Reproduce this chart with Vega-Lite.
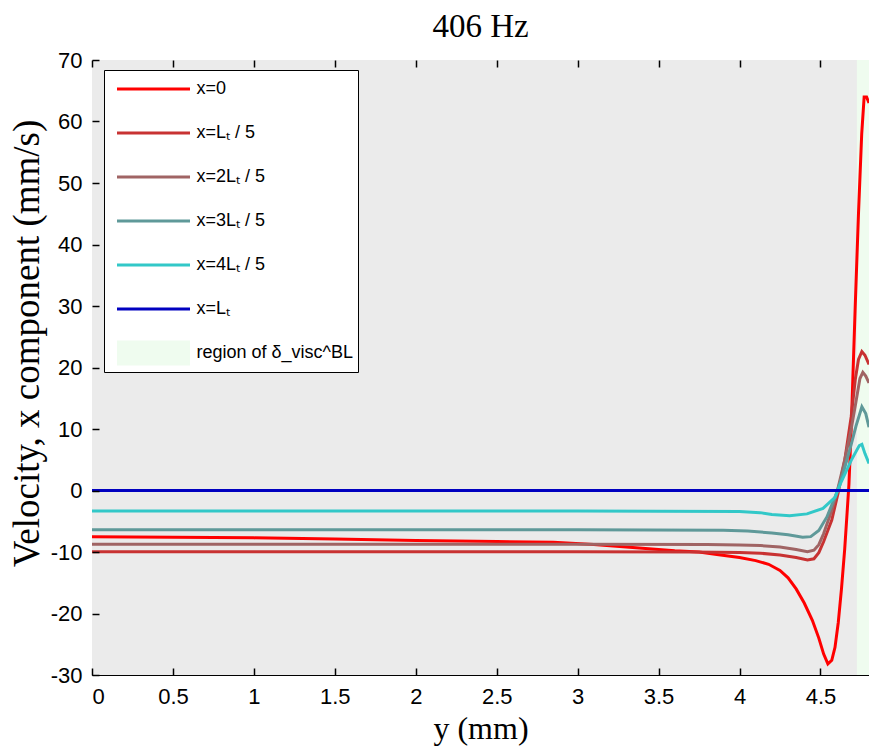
{
  "$schema": "https://vega.github.io/schema/vega-lite/v6.json",
  "autosize": {"type": "none"},
  "padding": {"left": 92, "top": 60, "right": 0, "bottom": 74},
  "width": 777,
  "height": 615,
  "background": "white",
  "title": {"text": "406 Hz", "font": "Liberation Serif", "fontSize": 33, "fontWeight": "normal", "color": "black", "offset": 5, "anchor": "middle"},
  "datasets": {
    "region": [
      {"s": "region of δ_visc^BL", "pos": 4.725, "pos2": 4.8}
    ],
    "lines": [
      {"s": "x=0", "pos": 0, "vel": -7.5},
      {"s": "x=0", "pos": 0.5, "vel": -7.6},
      {"s": "x=0", "pos": 1.0, "vel": -7.7},
      {"s": "x=0", "pos": 1.5, "vel": -7.9},
      {"s": "x=0", "pos": 2.0, "vel": -8.15},
      {"s": "x=0", "pos": 2.5, "vel": -8.3},
      {"s": "x=0", "pos": 2.85, "vel": -8.4},
      {"s": "x=0", "pos": 3.1, "vel": -8.8},
      {"s": "x=0", "pos": 3.4, "vel": -9.4},
      {"s": "x=0", "pos": 3.6, "vel": -9.8},
      {"s": "x=0", "pos": 3.75, "vel": -10.0},
      {"s": "x=0", "pos": 3.86, "vel": -10.4},
      {"s": "x=0", "pos": 4.0, "vel": -10.9},
      {"s": "x=0", "pos": 4.1, "vel": -11.4},
      {"s": "x=0", "pos": 4.18, "vel": -12.0},
      {"s": "x=0", "pos": 4.25, "vel": -13.0},
      {"s": "x=0", "pos": 4.3, "vel": -14.2},
      {"s": "x=0", "pos": 4.35, "vel": -16.0},
      {"s": "x=0", "pos": 4.4, "vel": -18.3},
      {"s": "x=0", "pos": 4.45, "vel": -21.1},
      {"s": "x=0", "pos": 4.49, "vel": -24.0},
      {"s": "x=0", "pos": 4.52, "vel": -26.6},
      {"s": "x=0", "pos": 4.546, "vel": -28.2},
      {"s": "x=0", "pos": 4.57, "vel": -27.6},
      {"s": "x=0", "pos": 4.59, "vel": -25.5},
      {"s": "x=0", "pos": 4.61, "vel": -21.5},
      {"s": "x=0", "pos": 4.63, "vel": -16.0},
      {"s": "x=0", "pos": 4.65, "vel": -9.5},
      {"s": "x=0", "pos": 4.665, "vel": -3.5},
      {"s": "x=0", "pos": 4.676, "vel": 1},
      {"s": "x=0", "pos": 4.69, "vel": 10},
      {"s": "x=0", "pos": 4.70, "vel": 18},
      {"s": "x=0", "pos": 4.715, "vel": 30},
      {"s": "x=0", "pos": 4.735, "vel": 45},
      {"s": "x=0", "pos": 4.755, "vel": 58},
      {"s": "x=0", "pos": 4.77, "vel": 64},
      {"s": "x=0", "pos": 4.785, "vel": 64},
      {"s": "x=0", "pos": 4.8, "vel": 63},

      {"s": "x=Lₜ / 5", "pos": 0, "vel": -9.95},
      {"s": "x=Lₜ / 5", "pos": 1, "vel": -9.95},
      {"s": "x=Lₜ / 5", "pos": 2, "vel": -9.95},
      {"s": "x=Lₜ / 5", "pos": 3, "vel": -9.95},
      {"s": "x=Lₜ / 5", "pos": 3.7, "vel": -10.0},
      {"s": "x=Lₜ / 5", "pos": 4.0, "vel": -10.1},
      {"s": "x=Lₜ / 5", "pos": 4.13, "vel": -10.2},
      {"s": "x=Lₜ / 5", "pos": 4.25, "vel": -10.5},
      {"s": "x=Lₜ / 5", "pos": 4.35, "vel": -10.9},
      {"s": "x=Lₜ / 5", "pos": 4.42, "vel": -11.3},
      {"s": "x=Lₜ / 5", "pos": 4.46, "vel": -11.1},
      {"s": "x=Lₜ / 5", "pos": 4.49, "vel": -10.1},
      {"s": "x=Lₜ / 5", "pos": 4.52, "vel": -8.3},
      {"s": "x=Lₜ / 5", "pos": 4.57, "vel": -4.8},
      {"s": "x=Lₜ / 5", "pos": 4.61, "vel": -0.3},
      {"s": "x=Lₜ / 5", "pos": 4.65, "vel": 4.9},
      {"s": "x=Lₜ / 5", "pos": 4.69, "vel": 12},
      {"s": "x=Lₜ / 5", "pos": 4.715, "vel": 18},
      {"s": "x=Lₜ / 5", "pos": 4.735, "vel": 21.3},
      {"s": "x=Lₜ / 5", "pos": 4.756, "vel": 22.6},
      {"s": "x=Lₜ / 5", "pos": 4.775, "vel": 22},
      {"s": "x=Lₜ / 5", "pos": 4.8, "vel": 20.5},

      {"s": "x=2Lₜ / 5", "pos": 0, "vel": -8.75},
      {"s": "x=2Lₜ / 5", "pos": 1, "vel": -8.75},
      {"s": "x=2Lₜ / 5", "pos": 2, "vel": -8.75},
      {"s": "x=2Lₜ / 5", "pos": 3, "vel": -8.75},
      {"s": "x=2Lₜ / 5", "pos": 3.8, "vel": -8.8},
      {"s": "x=2Lₜ / 5", "pos": 4.0, "vel": -8.85},
      {"s": "x=2Lₜ / 5", "pos": 4.13, "vel": -8.95},
      {"s": "x=2Lₜ / 5", "pos": 4.25, "vel": -9.2},
      {"s": "x=2Lₜ / 5", "pos": 4.35, "vel": -9.6},
      {"s": "x=2Lₜ / 5", "pos": 4.42, "vel": -9.95},
      {"s": "x=2Lₜ / 5", "pos": 4.46, "vel": -9.7},
      {"s": "x=2Lₜ / 5", "pos": 4.49, "vel": -8.8},
      {"s": "x=2Lₜ / 5", "pos": 4.52, "vel": -7.0},
      {"s": "x=2Lₜ / 5", "pos": 4.57, "vel": -3.2},
      {"s": "x=2Lₜ / 5", "pos": 4.605, "vel": 0},
      {"s": "x=2Lₜ / 5", "pos": 4.65, "vel": 5},
      {"s": "x=2Lₜ / 5", "pos": 4.69, "vel": 10},
      {"s": "x=2Lₜ / 5", "pos": 4.72, "vel": 14.5},
      {"s": "x=2Lₜ / 5", "pos": 4.744, "vel": 18.2},
      {"s": "x=2Lₜ / 5", "pos": 4.762, "vel": 19.2},
      {"s": "x=2Lₜ / 5", "pos": 4.78, "vel": 18.6},
      {"s": "x=2Lₜ / 5", "pos": 4.8, "vel": 17.5},

      {"s": "x=3Lₜ / 5", "pos": 0, "vel": -6.4},
      {"s": "x=3Lₜ / 5", "pos": 1, "vel": -6.4},
      {"s": "x=3Lₜ / 5", "pos": 2, "vel": -6.4},
      {"s": "x=3Lₜ / 5", "pos": 3, "vel": -6.4},
      {"s": "x=3Lₜ / 5", "pos": 3.9, "vel": -6.45},
      {"s": "x=3Lₜ / 5", "pos": 4.05, "vel": -6.6},
      {"s": "x=3Lₜ / 5", "pos": 4.2, "vel": -6.9},
      {"s": "x=3Lₜ / 5", "pos": 4.3, "vel": -7.2},
      {"s": "x=3Lₜ / 5", "pos": 4.39, "vel": -7.6},
      {"s": "x=3Lₜ / 5", "pos": 4.44, "vel": -7.5},
      {"s": "x=3Lₜ / 5", "pos": 4.49, "vel": -6.5},
      {"s": "x=3Lₜ / 5", "pos": 4.54, "vel": -4.3},
      {"s": "x=3Lₜ / 5", "pos": 4.6, "vel": -0.4},
      {"s": "x=3Lₜ / 5", "pos": 4.64, "vel": 2.8},
      {"s": "x=3Lₜ / 5", "pos": 4.68, "vel": 6.5},
      {"s": "x=3Lₜ / 5", "pos": 4.72, "vel": 10.5},
      {"s": "x=3Lₜ / 5", "pos": 4.756, "vel": 13.6},
      {"s": "x=3Lₜ / 5", "pos": 4.78, "vel": 12.5},
      {"s": "x=3Lₜ / 5", "pos": 4.8, "vel": 10.3},

      {"s": "x=4Lₜ / 5", "pos": 0, "vel": -3.35},
      {"s": "x=4Lₜ / 5", "pos": 1, "vel": -3.35},
      {"s": "x=4Lₜ / 5", "pos": 2, "vel": -3.35},
      {"s": "x=4Lₜ / 5", "pos": 3, "vel": -3.35},
      {"s": "x=4Lₜ / 5", "pos": 4.0, "vel": -3.4},
      {"s": "x=4Lₜ / 5", "pos": 4.126, "vel": -3.6},
      {"s": "x=4Lₜ / 5", "pos": 4.2, "vel": -3.9},
      {"s": "x=4Lₜ / 5", "pos": 4.31, "vel": -4.1},
      {"s": "x=4Lₜ / 5", "pos": 4.417, "vel": -3.8},
      {"s": "x=4Lₜ / 5", "pos": 4.516, "vel": -2.9},
      {"s": "x=4Lₜ / 5", "pos": 4.59, "vel": -1.1},
      {"s": "x=4Lₜ / 5", "pos": 4.63, "vel": 1.5},
      {"s": "x=4Lₜ / 5", "pos": 4.69, "vel": 4.9},
      {"s": "x=4Lₜ / 5", "pos": 4.74, "vel": 7.3},
      {"s": "x=4Lₜ / 5", "pos": 4.756, "vel": 7.5},
      {"s": "x=4Lₜ / 5", "pos": 4.775, "vel": 6.0},
      {"s": "x=4Lₜ / 5", "pos": 4.8, "vel": 4.4},

      {"s": "x=Lₜ", "pos": 0, "vel": 0},
      {"s": "x=Lₜ", "pos": 4.8, "vel": 0}
    ]
  },
  "layer": [
    {
      "data": {"values": [{"bg": "plot"}]},
      "mark": {"type": "rect", "color": "#EBEBEB"},
      "encoding": {}
    },
    {
      "data": {"name": "region"},
      "mark": {"type": "rect"},
      "encoding": {
        "x": {"field": "pos", "type": "quantitative", "scale": {"domain": [0, 4.8], "nice": false, "zero": false},
              "axis": {"orient": "top", "labels": false, "title": null, "values": [0, 0.5, 1, 1.5, 2, 2.5, 3, 3.5, 4, 4.5],
                       "ticks": true, "tickSize": 7, "tickColor": "#000000", "tickWidth": 1.5, "tickOpacity": 1, "offset": -7, "domain": false, "zindex": 1}},
        "x2": {"field": "pos2"},
        "color": {"field": "s", "type": "ordinal",
                  "scale": {"domain": ["x=0", "x=Lₜ / 5", "x=2Lₜ / 5", "x=3Lₜ / 5", "x=4Lₜ / 5", "x=Lₜ", "region of δ_visc^BL"],
                            "range": ["#FF0000", "#C83232", "#A06464", "#5F9999", "#32C8C8", "#0000C0", "#EFFCEF"]},
                  "legend": {"title": null, "orient": "none", "legendX": 12, "legendY": 10}},
        "strokeWidth": {"field": "s", "type": "ordinal",
                  "scale": {"type": "ordinal", "domain": ["x=0", "x=Lₜ / 5", "x=2Lₜ / 5", "x=3Lₜ / 5", "x=4Lₜ / 5", "x=Lₜ", "region of δ_visc^BL"],
                            "range": [3, 3, 3, 3, 3, 3, 25]},
                  "legend": {"title": null, "orient": "none", "legendX": 12, "legendY": 10}}
      }
    },
    {
      "data": {"name": "lines"},
      "mark": {"type": "line", "clip": true},
      "encoding": {
        "x": {"field": "pos", "type": "quantitative", "scale": {"domain": [0, 4.8], "nice": false, "zero": false},
              "axis": {"orient": "bottom", "title": "y (mm)", "values": [0, 0.5, 1, 1.5, 2, 2.5, 3, 3.5, 4, 4.5], "labelExpr": "'' + datum.value", "labelPadding": 11, "titlePadding": 6,
                       "ticks": true, "tickSize": 7, "tickColor": "#000000", "tickWidth": 1.5, "tickOpacity": 1, "offset": -7, "domain": false, "zindex": 1}},
        "y": {"field": "vel", "type": "quantitative", "scale": {"domain": [-30, 70], "nice": false, "zero": false},
              "axis": {"orient": "left", "title": "Velocity, x component (mm/s)", "titleFontSize": 37, "titleY": 283, "values": [-30, -20, -10, 0, 10, 20, 30, 40, 50, 60, 70], "labelExpr": "'' + datum.value", "labelPadding": 10, "titlePadding": 4,
                       "ticks": true, "tickSize": 7, "tickColor": "#000000", "tickWidth": 1.5, "tickOpacity": 1, "offset": -7, "domain": false, "zindex": 1}},
        "color": {"field": "s", "type": "ordinal",
                  "scale": {"domain": ["x=0", "x=Lₜ / 5", "x=2Lₜ / 5", "x=3Lₜ / 5", "x=4Lₜ / 5", "x=Lₜ", "region of δ_visc^BL"],
                            "range": ["#FF0000", "#C83232", "#A06464", "#5F9999", "#32C8C8", "#0000C0", "#EFFCEF"]},
                  "legend": {"title": null, "orient": "none", "legendX": 12, "legendY": 10}},
        "strokeWidth": {"field": "s", "type": "ordinal",
                  "scale": {"type": "ordinal", "domain": ["x=0", "x=Lₜ / 5", "x=2Lₜ / 5", "x=3Lₜ / 5", "x=4Lₜ / 5", "x=Lₜ", "region of δ_visc^BL"],
                            "range": [3, 3, 3, 3, 3, 3, 25]},
                  "legend": {"title": null, "orient": "none", "legendX": 12, "legendY": 10}}
      }
    }
  ],
  "resolve": {"axis": {"x": "independent"}},
  "config": {
    "view": {"fill": null, "stroke": "black", "strokeWidth": 1},
    "axis": {
      "grid": false,
      "labelColor": "black",
      "titleColor": "black",
      "labelFont": "Liberation Sans",
      "labelFontSize": 22,
      "titleFont": "Liberation Serif",
      "titleFontSize": 32,
      "titleFontWeight": "normal"
    },
    "legend": {
      "fillColor": "white",
      "strokeColor": "black",
      "padding": 4,
      "symbolType": "stroke",
      "symbolSize": 5329,
      "clipHeight": 30,
      "rowPadding": 14,
      "labelFont": "Liberation Sans",
      "labelFontSize": 18,
      "labelColor": "black",
      "labelOffset": -6,
      "symbolOffset": -3.5,
      "labelLimit": 400,
      "zindex": 2
    }
  }
}
